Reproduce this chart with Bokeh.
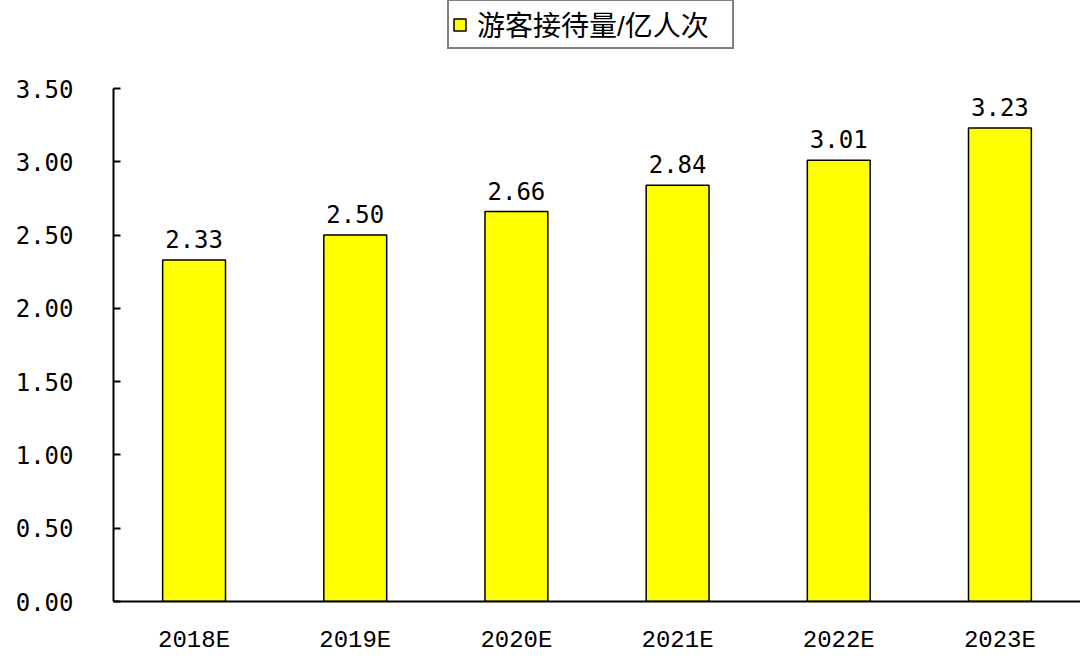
from bokeh.plotting import figure
from bokeh.models import ColumnDataSource, Legend, LegendItem, FactorRange, Range1d, FixedTicker
from bokeh.core.properties import value
from bokeh.embed import file_html
from bokeh.resources import INLINE

categories = ["2018E", "2019E", "2020E", "2021E", "2022E", "2023E"]
visitors = [2.33, 2.50, 2.66, 2.84, 3.01, 3.23]
labels = ["2.33", "2.50", "2.66", "2.84", "3.01", "3.23"]
y_ticks = [0.0, 0.5, 1.0, 1.5, 2.0, 2.5, 3.0, 3.5]
y_tick_labels = ["0.00", "0.50", "1.00", "1.50", "2.00", "2.50", "3.00", "3.50"]
series_name = "游客接待量/亿人次"

# axis spans 0..3.5 over 513 px; frame extends 88 px higher to host the legend
y_max = 3.5
y_top = y_max * (601.0 / 513.0)

src = ColumnDataSource(dict(cat=categories, val=visitors, lab=labels))

p = figure(width=1080, height=658, output_backend="svg", toolbar_location=None,
           x_range=FactorRange(*categories, range_padding=0), y_range=Range1d(0, y_top),
           min_border_left=113, min_border_right=0, min_border_top=0, min_border_bottom=57)
p.outline_line_color = None
p.background_fill_color = "white"
p.border_fill_color = "white"
p.xgrid.visible = False
p.ygrid.visible = False

r = p.vbar(x="cat", top="val", width=0.39, source=src, fill_color="#FFFF00",
           line_color="black", line_width=1.5)
p.text(x="cat", y="val", text="lab", source=src, text_align="center", text_baseline="bottom",
       y_offset=-12, text_font=value("DejaVu Sans Mono"), text_font_size="24px", text_color="black")

p.yaxis.bounds = (0, y_max)
p.yaxis.ticker = FixedTicker(ticks=y_ticks)
p.yaxis.major_label_overrides = {t: l for t, l in zip(y_ticks, y_tick_labels)}
p.yaxis.major_label_text_font = "DejaVu Sans Mono"
p.yaxis.major_label_text_font_size = "24px"
p.yaxis.major_label_text_color = "black"
p.yaxis.major_tick_in = 7
p.yaxis.major_tick_out = 0
p.yaxis.minor_tick_line_color = None
p.yaxis.axis_line_width = 2
p.yaxis.major_tick_line_width = 2
p.yaxis.major_label_standoff = 40

p.xaxis.major_label_text_font = "Liberation Mono"
p.xaxis.major_label_text_font_size = "24px"
p.xaxis.major_label_text_color = "black"
p.xaxis.major_tick_line_color = None
p.xaxis.axis_line_width = 2
p.xaxis.major_label_standoff = 19

legend = Legend(items=[LegendItem(label=series_name, renderers=[r])],
                location=(334, 552), orientation="vertical",
                label_text_font="Liberation Sans, Noto Sans CJK SC", label_text_font_size="28px",
                label_text_color="black",
                glyph_width=15, glyph_height=15, label_standoff=10, label_width=252,
                padding=3, margin=0, spacing=0, border_line_color="black", border_line_width=2,
                background_fill_color="white", background_fill_alpha=1)
p.add_layout(legend, "center")

open("out.html", "w").write(file_html(p, INLINE))
